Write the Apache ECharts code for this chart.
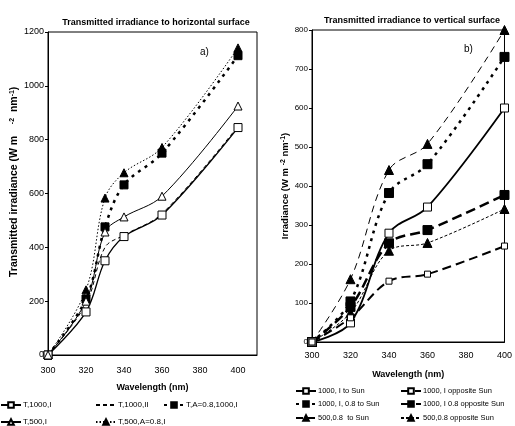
<!DOCTYPE html>
<html>
<head>
<meta charset="utf-8">
<script src="https://cdn.jsdelivr.net/npm/echarts@6/dist/echarts.min.js"></script>
<style>
  html, body { margin: 0; padding: 0; background: #fff; }
  #chart { width: 515px; height: 426px; }
</style>
</head>
<body>
<div id="chart"></div>
<script>
// a) horizontal surface
var xHor = [300, 320, 330, 340, 360, 400];
var t1000I = [0, 160, 350, 440, 520, 845];
var t1000II = [0, 190, 400, 445, 525, 850];
var tA1000I = [0, 208, 476, 632, 750, 1112];
var t500I = [0, 200, 457, 513, 590, 925];
var t500AI = [0, 242, 583, 677, 771, 1141];

// b) vertical surface
var xVer = [300, 320, 340, 360, 400];
var toSun1000 = [0, 49, 279, 346, 600];
var oppSun1000 = [0, 62, 156, 174, 246];
var toSun1000A = [0, 104, 382, 456, 731];
var oppSun1000A = [0, 90, 253, 287, 377];
var toSun500A = [0, 161, 441, 508, 800];
var oppSun500A = [0, 75, 234, 254, 341];

var FONT = 'Liberation Sans';
var chart = echarts.init(document.getElementById('chart'), null, {renderer: 'canvas'});

function pairs(xs, ys) {
    return xs.map(function (x, i) { return [x, ys[i]]; });
}

// 线型
function mkSeries(name, xi, xs, ys, o) {
    return {
        name: name,
        type: 'line',
        xAxisIndex: xi,
        yAxisIndex: xi,
        data: pairs(xs, ys),
        smooth: 0.35,
        symbol: o.symbol || 'none',
        symbolSize: o.size || 7,
        showSymbol: !!o.symbol,
        lineStyle: {color: '#000', width: o.width || 1, type: o.type || 'solid'},
        itemStyle: {color: o.fill || '#000', borderColor: '#000', borderWidth: 1},
        emphasis: {disabled: true},
        z: o.z || 2
    };
}

function leg(name, left, top, fs, noMark) {
    var item = {name: name};
    if (noMark) item.itemStyle = {opacity: 0};
    return {
        data: [item], left: left, top: top,
        itemWidth: 20, itemHeight: 7, itemGap: 2,
        padding: 0,
        textStyle: {fontFamily: FONT, fontSize: fs, color: '#000', padding: [0, 0, 0, -3]}
    };
}

function nameRich(size) {
    return {
        a: {fontFamily: FONT, fontSize: size, fontWeight: 'bold', color: '#000'},
        s: {fontFamily: FONT, fontSize: 7, fontWeight: 'bold', color: '#000', verticalAlign: 'top', padding: [0, 0, 6, 0]}
    };
}

function plain(v) { return String(v); }

var option = {
    backgroundColor: '#fff',
    animation: false,
    title: [
        {text: 'Transmitted irradiance to horizontal surface', left: 151, top: 13, textAlign: 'center',
            textStyle: {fontFamily: FONT, fontSize: 9, fontWeight: 'bold', color: '#000'}},
        {text: 'Transmitted irradiance to vertical surface', left: 407, top: 11, textAlign: 'center',
            textStyle: {fontFamily: FONT, fontSize: 9, fontWeight: 'bold', color: '#000'}},
        {text: 'a)', left: 195, top: 42, textStyle: {fontFamily: FONT, fontSize: 10, fontWeight: 'normal', color: '#000'}},
        {text: 'b)', left: 459, top: 39, textStyle: {fontFamily: FONT, fontSize: 10, fontWeight: 'normal', color: '#000'}}
    ],
    grid: [
        {left: 48, top: 32, width: 209, height: 323, show: true, borderColor: '#000', borderWidth: 1, backgroundColor: 'transparent'},
        {left: 312, top: 30, width: 195, height: 312, show: true, borderColor: '#000', borderWidth: 1, backgroundColor: 'transparent'}
    ],
    xAxis: [
        {gridIndex: 0, type: 'value', min: 300, max: 410, interval: 20,
            name: 'Wavelength (nm)', nameLocation: 'middle', nameGap: 28,
            nameTextStyle: {fontFamily: FONT, fontSize: 9, fontWeight: 'bold', color: '#000'},
            axisLine: {lineStyle: {color: '#000'}},
            axisTick: {show: false},
            splitLine: {show: false},
            axisLabel: {fontFamily: FONT, fontSize: 9, color: '#000', margin: 11, showMaxLabel: false, formatter: plain}},
        {gridIndex: 1, type: 'value', min: 300, max: 400, interval: 20,
            name: 'Wavelength (nm)', nameLocation: 'middle', nameGap: 28,
            nameTextStyle: {fontFamily: FONT, fontSize: 9, fontWeight: 'bold', color: '#000'},
            axisLine: {lineStyle: {color: '#000'}},
            axisTick: {show: false},
            splitLine: {show: false},
            axisLabel: {fontFamily: FONT, fontSize: 9, color: '#000', margin: 9, formatter: plain}}
    ],
    yAxis: [
        {gridIndex: 0, type: 'value', min: 0, max: 1200, interval: 200,
            name: '{a|        Transmitted irradiance (W m    }{s|-2}{a|  nm}{s|-1}{a|)}',
            nameLocation: 'middle', nameGap: 22,
            nameTextStyle: {rich: nameRich(10.5)},
            axisLine: {lineStyle: {color: '#000'}},
            axisTick: {show: true, length: 3, lineStyle: {color: '#000'}},
            splitLine: {show: false},
            axisLabel: {fontFamily: FONT, fontSize: 9, color: '#000', margin: 4, formatter: plain}},
        {gridIndex: 1, type: 'value', min: 0, max: 800, interval: 100,
            name: '{a|Irradiance (W m }{s|-2}{a| nm}{s|-1}{a|)}',
            nameLocation: 'middle', nameGap: 18,
            nameTextStyle: {rich: nameRich(9.5)},
            axisLine: {lineStyle: {color: '#000'}},
            axisTick: {show: true, length: 3, lineStyle: {color: '#000'}},
            splitLine: {show: false},
            axisLabel: {fontFamily: FONT, fontSize: 8, color: '#000', margin: 4, formatter: plain}}
    ],
    legend: [
        leg('T,1000,I', 0, 401, 8),
        leg('T,1000,II', 95, 401, 8, true),
        leg('T,A=0.8,1000,I', 163, 401, 8),
        leg('T,500,I', 0, 418, 8),
        leg('T,500,A=0.8,I', 95, 418, 8),
        leg('1000, I to Sun', 295, 387, 7.5),
        leg('1000, I opposite Sun', 400, 387, 7.5),
        leg('1000, I, 0.8 to Sun', 295, 400, 7.5),
        leg('1000, I 0.8 opposite Sun', 400, 400, 7.5),
        leg('500,0.8  to Sun', 295, 414, 7.5),
        leg('500,0.8 opposite Sun', 400, 414, 7.5)
    ],
    series: [
        mkSeries('T,1000,I', 0, xHor, t1000I, {symbol: 'rect', fill: '#fff', size: 8, width: 1.3, z: 4}),
        mkSeries('T,1000,II', 0, xHor, t1000II, {type: [4, 3], width: 1}),
        mkSeries('T,A=0.8,1000,I', 0, xHor, tA1000I, {symbol: 'rect', size: 8, width: 2.5, type: [3, 5], z: 3}),
        mkSeries('T,500,I', 0, xHor, t500I, {symbol: 'triangle', fill: '#fff', size: 8, width: 1, z: 4}),
        mkSeries('T,500,A=0.8,I', 0, xHor, t500AI, {symbol: 'triangle', size: 8, width: 1, type: [1.5, 2], z: 3}),

        mkSeries('1000, I to Sun', 1, xVer, toSun1000, {symbol: 'rect', fill: '#fff', size: 8, width: 1.8, z: 4}),
        mkSeries('1000, I opposite Sun', 1, xVer, oppSun1000, {symbol: 'rect', fill: '#fff', size: 6, width: 2, type: [9, 5], z: 4}),
        mkSeries('1000, I, 0.8 to Sun', 1, xVer, toSun1000A, {symbol: 'rect', size: 9, width: 2.5, type: [3, 5], z: 3}),
        mkSeries('1000, I 0.8 opposite Sun', 1, xVer, oppSun1000A, {symbol: 'rect', size: 9, width: 2.5, type: [10, 5], z: 3}),
        mkSeries('500,0.8  to Sun', 1, xVer, toSun500A, {symbol: 'triangle', size: 9, width: 1, type: [7, 5], z: 3}),
        mkSeries('500,0.8 opposite Sun', 1, xVer, oppSun500A, {symbol: 'triangle', size: 9, width: 1, type: [3, 2], z: 3})
    ]
};

chart.setOption(option);
</script>
</body>
</html>
